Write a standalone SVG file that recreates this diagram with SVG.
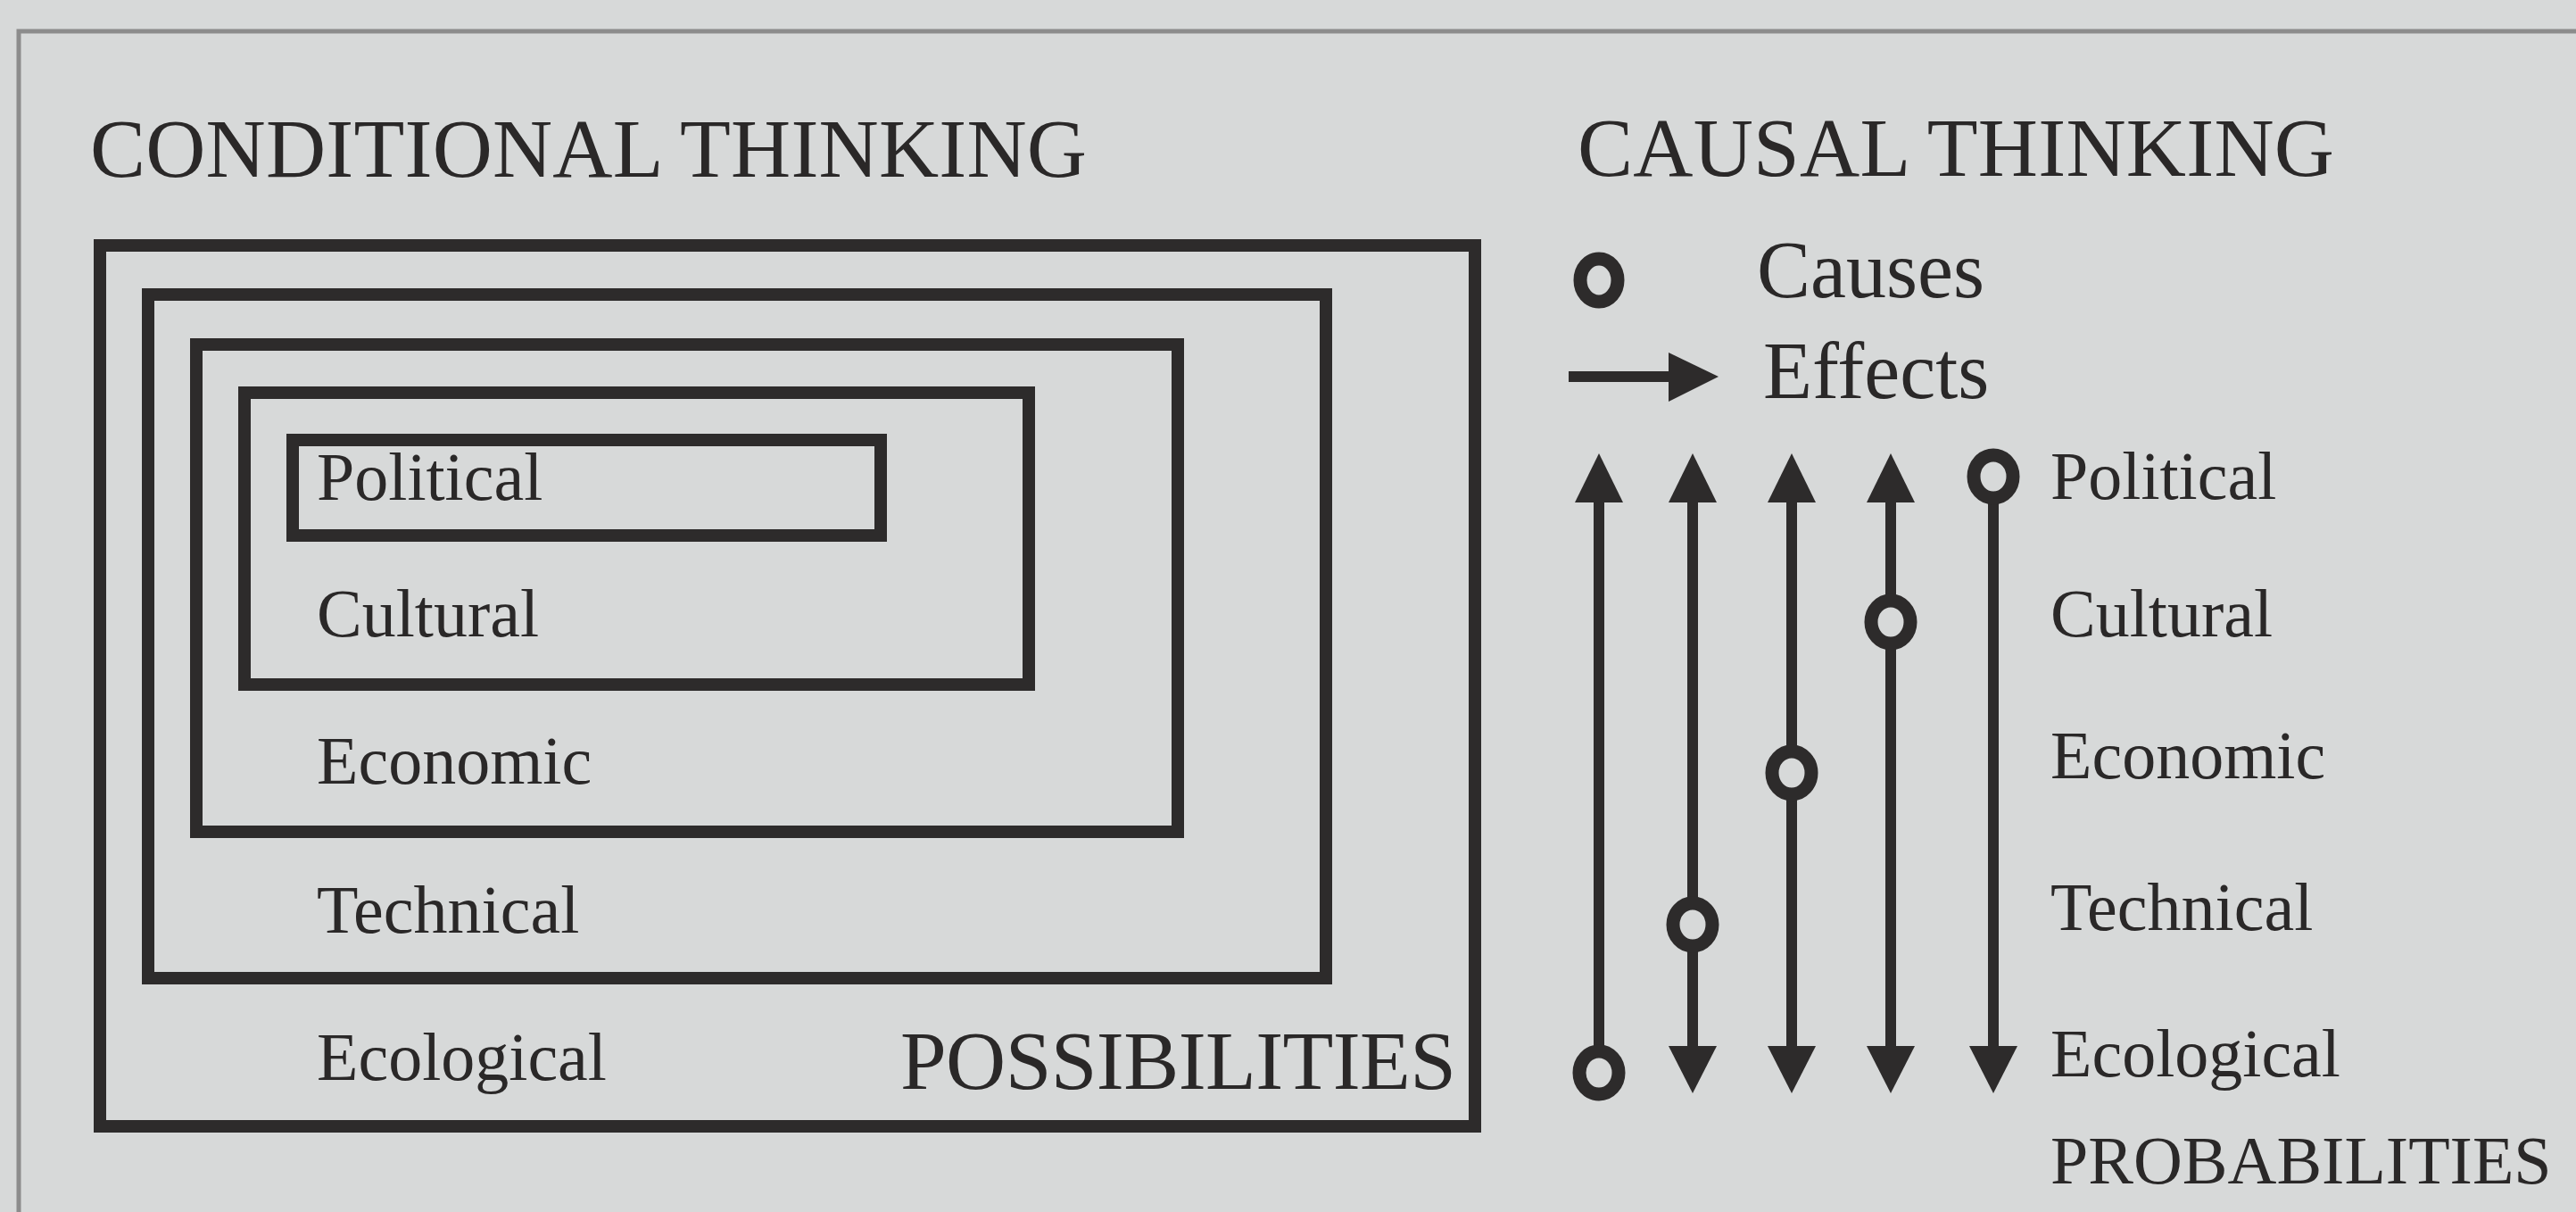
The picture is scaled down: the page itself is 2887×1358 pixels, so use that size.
<svg xmlns="http://www.w3.org/2000/svg" width="2887" height="1358" viewBox="0 0 2887 1358">
<defs>
<style>
.bg{fill:#d7d9d9}
.frame{fill:none;stroke:#8c8c8c;stroke-width:5}
.box{fill:none;stroke:#2d2b2b;stroke-width:14}
.ln{fill:none;stroke:#2d2b2b;stroke-width:12}
.head{fill:#2d2b2b}
.cause{fill:#d7d9d9;stroke:#2d2b2b;stroke-width:15}
.t{font-family:"Liberation Serif","Times New Roman",serif;fill:#2a2828}
.h{font-size:93px}
.lab{font-size:76px}
.leg{font-size:90px}
</style>
</defs>
<rect class="bg" x="0" y="0" width="2887" height="1358"/>
<path class="frame" d="M21 1358 V35 H2887"/>

<g id="conditional">
<text class="t h" x="101" y="198" textLength="1117">CONDITIONAL THINKING</text>
<g id="box-ecological">
<rect class="box" x="112" y="275" width="1541" height="987"/>
<text class="t lab" x="355" y="1210">Ecological</text>
<text class="t h" x="1009" y="1220" textLength="623">POSSIBILITIES</text>
</g>
<g id="box-technical">
<rect class="box" x="166" y="330" width="1320" height="766"/>
<text class="t lab" x="355" y="1045">Technical</text>
</g>
<g id="box-economic">
<rect class="box" x="220" y="386" width="1100" height="546"/>
<text class="t lab" x="355" y="878">Economic</text>
</g>
<g id="box-cultural">
<rect class="box" x="274" y="440" width="879" height="327"/>
<text class="t lab" x="355" y="713">Cultural</text>
</g>
<g id="box-political">
<rect class="box" x="328" y="493" width="659" height="107"/>
<text class="t lab" x="355" y="560">Political</text>
</g>
</g>

<g id="causal">
<text class="t h" x="1768" y="197" textLength="848">CAUSAL THINKING</text>
<g id="legend">
<ellipse class="cause" cx="1792" cy="314" rx="21" ry="24"/>
<text class="t leg" x="1969" y="333">Causes</text>
<line class="ln" x1="1758" y1="422" x2="1875" y2="422" stroke-width="16"/>
<polygon class="head" points="1870,395 1926,422 1870,450"/>
<text class="t leg" x="1976" y="446">Effects</text>
</g>
<g id="labels">
<text class="t lab" x="2298" y="559">Political</text>
<text class="t lab" x="2298" y="713">Cultural</text>
<text class="t lab" x="2298" y="872">Economic</text>
<text class="t lab" x="2298" y="1042">Technical</text>
<text class="t lab" x="2298" y="1206">Ecological</text>
<text class="t lab" x="2298" y="1326">PROBABILITIES</text>
</g>
</g>

<g id="connectors">
<!-- column 1: ecological cause -->
<line class="ln" x1="1792" y1="560" x2="1792" y2="1185"/>
<polygon class="head" points="1792,508 1765,563 1819,563"/>
<ellipse class="cause" cx="1792" cy="1202" rx="22" ry="24"/>
<!-- column 2: technical cause -->
<line class="ln" x1="1897" y1="560" x2="1897" y2="1175"/>
<polygon class="head" points="1897,508 1870,563 1924,563"/>
<polygon class="head" points="1897,1225 1870,1172 1924,1172"/>
<ellipse class="cause" cx="1897" cy="1036" rx="22" ry="24"/>
<!-- column 3: economic cause -->
<line class="ln" x1="2008" y1="560" x2="2008" y2="1175"/>
<polygon class="head" points="2008,508 1981,563 2035,563"/>
<polygon class="head" points="2008,1225 1981,1172 2035,1172"/>
<ellipse class="cause" cx="2008" cy="866" rx="22" ry="24"/>
<!-- column 4: cultural cause -->
<line class="ln" x1="2119" y1="560" x2="2119" y2="1175"/>
<polygon class="head" points="2119,508 2092,563 2146,563"/>
<polygon class="head" points="2119,1225 2092,1172 2146,1172"/>
<ellipse class="cause" cx="2119" cy="697" rx="22" ry="24"/>
<!-- column 5: political cause -->
<line class="ln" x1="2234" y1="550" x2="2234" y2="1175"/>
<polygon class="head" points="2234,1225 2207,1172 2261,1172"/>
<ellipse class="cause" cx="2234" cy="534" rx="22" ry="24"/>
</g>
</svg>
